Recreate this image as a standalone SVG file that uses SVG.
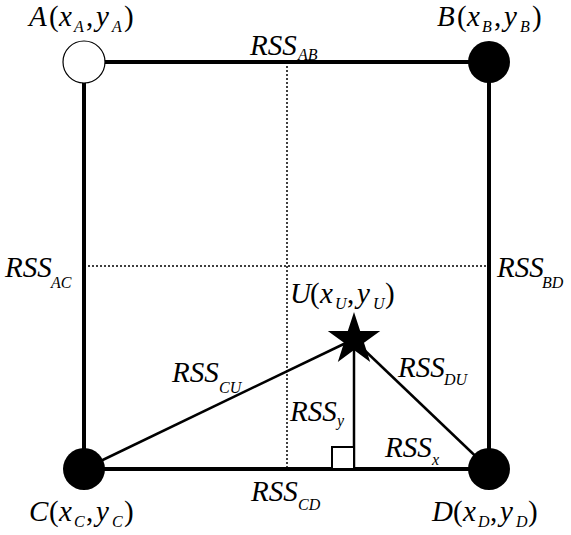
<svg xmlns="http://www.w3.org/2000/svg" width="571" height="535" viewBox="0 0 571 535">
<style>
.t{font-family:"Liberation Serif","Times New Roman",serif;font-size:29px;font-style:italic;fill:#000}
.r{font-style:normal}
.s{font-size:16px}
.thick{stroke:#000;stroke-width:4;fill:none}
.thin{stroke:#000;stroke-width:2.5;fill:none}
.dot{stroke:#000;stroke-width:1.5;stroke-dasharray:2 2;fill:none}
</style>
<rect width="571" height="535" fill="#fff"/>
<g id="connectors">
<line class="dot" x1="287" y1="62" x2="287" y2="469"/>
<line class="dot" x1="84" y1="266" x2="489" y2="266"/>
<line class="thick" x1="84" y1="62" x2="489" y2="62"/>
<line class="thick" x1="84" y1="62" x2="84" y2="469"/>
<line class="thick" x1="489" y1="62" x2="489" y2="469"/>
<line class="thick" x1="84" y1="469" x2="489" y2="469"/>
<line class="thin" x1="84" y1="469" x2="350" y2="341"/>
<line class="thin" x1="358" y1="344" x2="489" y2="469"/>
<line class="thin" x1="354" y1="340" x2="354" y2="469"/>
<rect x="332" y="447" width="22" height="22" fill="#fff" stroke="#000" stroke-width="2"/>
<text class="t" x="250" y="55">RSS<tspan class="s" x="298" y="60">AB</tspan></text>
<text class="t" x="5" y="277">RSS<tspan class="s" x="51" y="288">AC</tspan></text>
<text class="t" x="497" y="277">RSS<tspan class="s" x="542" y="288">BD</tspan></text>
<text class="t" x="172" y="382">RSS<tspan class="s" x="219" y="393">CU</tspan></text>
<text class="t" x="398" y="377">RSS<tspan class="s" x="444" y="385">DU</tspan></text>
<text class="t" x="290" y="421">RSS<tspan class="s" x="337" y="426">y</tspan></text>
<text class="t" x="385" y="457">RSS<tspan class="s" x="432" y="465">x</tspan></text>
<text class="t" x="251" y="501">RSS<tspan class="s" x="298" y="510">CD</tspan></text>
</g>
<g id="nodeA">
<circle cx="84" cy="62" r="21" fill="#fff" stroke="#000" stroke-width="1.2"/>
<text class="t" x="29" y="26">A<tspan class="r" x="49">(</tspan><tspan x="59">x</tspan><tspan class="s" x="74" y="32">A</tspan><tspan class="r" x="86" y="26">,</tspan><tspan x="96">y</tspan><tspan class="s" x="112" y="32">A</tspan><tspan class="r" x="124" y="26">)</tspan></text>
</g>
<g id="nodeB">
<circle cx="489" cy="62" r="21" fill="#000"/>
<text class="t" x="437" y="26">B<tspan class="r" x="457">(</tspan><tspan x="467">x</tspan><tspan class="s" x="482" y="32">B</tspan><tspan class="r" x="494" y="26">,</tspan><tspan x="504">y</tspan><tspan class="s" x="520" y="32">B</tspan><tspan class="r" x="532" y="26">)</tspan></text>
</g>
<g id="nodeC">
<circle cx="84" cy="469" r="21" fill="#000"/>
<text class="t" x="29" y="521">C<tspan class="r" x="49">(</tspan><tspan x="59">x</tspan><tspan class="s" x="74" y="527">C</tspan><tspan class="r" x="86" y="521">,</tspan><tspan x="96">y</tspan><tspan class="s" x="112" y="527">C</tspan><tspan class="r" x="124" y="521">)</tspan></text>
</g>
<g id="nodeD">
<circle cx="489" cy="469" r="21" fill="#000"/>
<text class="t" x="432" y="521">D<tspan class="r" x="453">(</tspan><tspan x="463">x</tspan><tspan class="s" x="478" y="527">D</tspan><tspan class="r" x="490" y="521">,</tspan><tspan x="500">y</tspan><tspan class="s" x="516" y="527">D</tspan><tspan class="r" x="528" y="521">)</tspan></text>
</g>
<g id="nodeU">
<polygon points="354,312 360.2,331.1 380.2,331.1 364,342.8 370.2,361.9 354,350.1 337.8,361.9 344,342.8 327.8,331.1 347.8,331.1" fill="#000"/>
<text class="t" x="290" y="303">U<tspan class="r" x="310">(</tspan><tspan x="320">x</tspan><tspan class="s" x="335" y="309">U</tspan><tspan class="r" x="347" y="303">,</tspan><tspan x="357">y</tspan><tspan class="s" x="373" y="309">U</tspan><tspan class="r" x="385" y="303">)</tspan></text>
</g>
</svg>
